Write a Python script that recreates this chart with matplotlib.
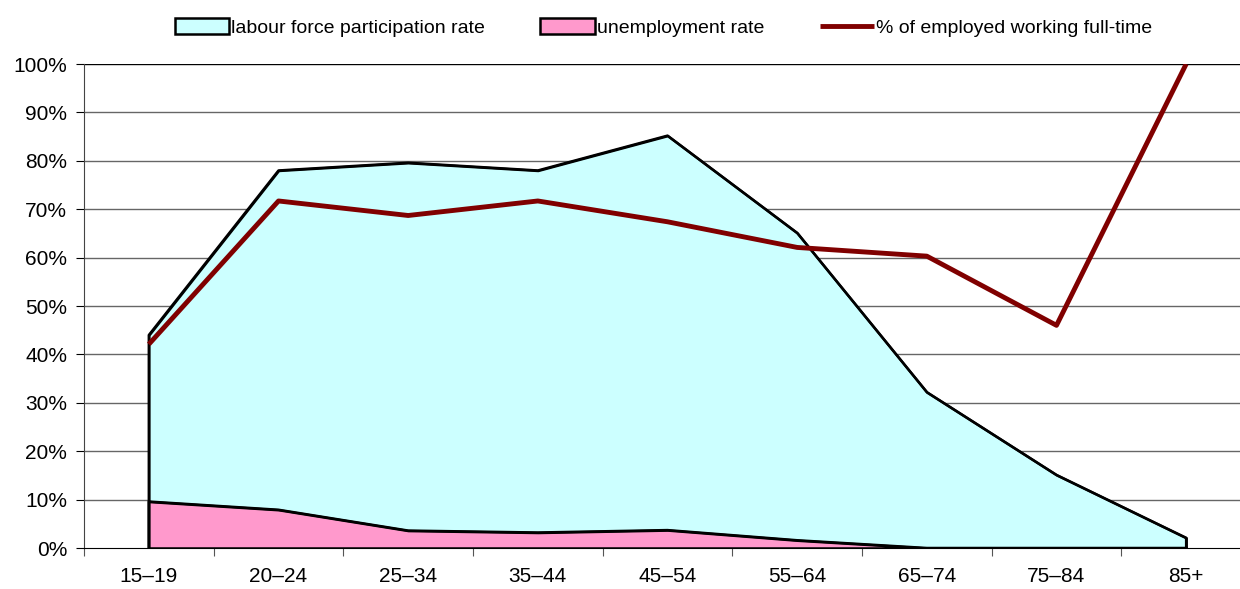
import numpy as np
import matplotlib.pyplot as plt

plt.rcParams['font.family'] = ['Liberation Sans', 'DejaVu Sans']

age_groups = ['15–19', '20–24', '25–34', '35–44', '45–54', '55–64', '65–74', '75–84', '85+']
participation = [44.0, 78.0, 79.6, 78.0, 85.2, 65.1, 32.2, 15.1, 2.1]
unemployment = [9.6, 7.9, 3.6, 3.2, 3.7, 1.6, 0.0, 0.0, 0.0]
full_time = [42.1, 71.7, 68.7, 71.7, 67.4, 62.1, 60.3, 46.0, 100.0]

x = np.arange(len(age_groups))

fig = plt.figure(figsize=(12.4, 5.89), dpi=100)
ax = fig.add_axes([84/1240, 41/589, 1167/1240, 484/589])

ax.fill_between(x, 0, participation, facecolor='#ccffff', edgecolor='none', zorder=2,
                label='labour force participation rate')
ax.plot(np.r_[x[0], x, x[-1]], np.r_[0, participation, 0], color='black', lw=1.8, zorder=3)
ax.fill_between(x, 0, unemployment, facecolor='#ff99cc', edgecolor='none', zorder=4,
                label='unemployment rate')
ax.plot(np.r_[x[0], x, x[-1]], np.r_[0, unemployment, 0], color='black', lw=1.8, zorder=5)
ax.plot(x, full_time, color='#800000', lw=3.5, zorder=6, solid_capstyle='butt',
        label='% of employed working full-time')

ax.set_xlim(-0.5, len(age_groups) - 0.5)
ax.set_ylim(0, 100)
ax.set_yticks(np.arange(0, 101, 10))
ax.set_yticklabels([f'{v}%' for v in range(0, 101, 10)])
ax.set_xticks(x)
ax.set_xticklabels(age_groups)
ax.set_xticks(np.arange(-0.5, len(age_groups), 1), minor=True)
ax.tick_params(axis='x', which='major', length=0, pad=14, labelsize=15)
ax.tick_params(axis='x', which='minor', length=6, width=0.8, color='#555555')
ax.tick_params(axis='y', length=6, width=0.8, labelsize=15, pad=6)

for v in range(10, 100, 10):
    ax.axhline(v, color='#666666', lw=1.0, zorder=1)
ax.axhline(100, color='black', lw=1.0, zorder=1)

for s in ['top', 'right']:
    ax.spines[s].set_visible(False)
ax.spines['left'].set_color('#444444')
ax.spines['bottom'].set_color('black')
ax.spines['bottom'].set_zorder(7)

h, l = ax.get_legend_handles_labels()
for p in h[:2]:
    p.set_edgecolor('black')
    p.set_linewidth(1.8)
fig.legend(h, l, loc='center', bbox_to_anchor=(0.535, 0.953), ncol=3, frameon=False,
           fontsize=14, columnspacing=2.85, handlelength=2.8, handletextpad=0.1, handleheight=0.85)

fig.savefig('out.png', dpi=100)
